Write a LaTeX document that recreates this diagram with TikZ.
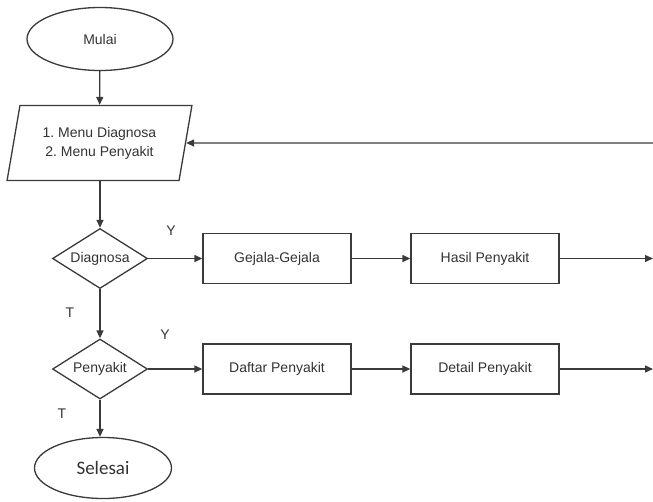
\documentclass[tikz,border=0pt]{standalone}
\usepackage{fontspec}
\setmainfont{Liberation Sans}
\newfontfamily\carl{Carlito}
\usetikzlibrary{shapes.geometric,arrows.meta}
\definecolor{ln}{HTML}{3A3A3A}
\definecolor{tx}{HTML}{333333}
\frenchspacing
\begin{document}
\begin{tikzpicture}[x=1pt,y=-1pt,
  base/.style={draw=ln,line width=1.3pt,fill=white,text=tx,font=\fontsize{14}{19}\selectfont,inner sep=0pt},
  term/.style={base,ellipse},
  procbox/.style={base,rectangle,minimum width=148pt,minimum height=50pt},
  decide/.style={base,diamond,aspect=1.58,minimum width=95pt,minimum height=60pt},
  io/.style={base,trapezium,trapezium left angle=74,trapezium right angle=106,trapezium stretches=true,minimum width=185pt,minimum height=75pt,align=center},
  conn/.style={draw=ln,line width=1.3pt,-{Triangle[length=8pt,width=7pt]}},
  lbl/.style={text=tx,font=\fontsize{14}{16}\selectfont,inner sep=0pt}]
\useasboundingbox (0,0) rectangle (653,501);
\node[term,minimum width=146pt,minimum height=63pt] (mulai) at (100,39) {Mulai};
\node[io] (menu) at (99.5,143) {1. Menu Diagnosa\\2. Menu Penyakit};
\node[decide] (diag) at (100,258.5) {Diagnosa};
\node[decide] (peny) at (100,369) {Penyakit};
\node[term,minimum width=137pt,minimum height=61pt,font=\carl\fontsize{19}{22}\selectfont] (selesai) at (103,468) {Selesai};
\node[procbox] (gejala) at (277,258.5) {Gejala-Gejala};
\node[procbox] (hasil) at (485,258.5) {Hasil Penyakit};
\node[procbox] (daftar) at (277,369) {Daftar Penyakit};
\node[procbox] (detail) at (485,369) {Detail Penyakit};
\coordinate (r0) at (653,143);
\coordinate (r1) at (653,258.5);
\coordinate (r2) at (653,369);
\node[lbl] (y1) at (171,231) {Y};
\node[lbl] (y2) at (165,335) {Y};
\node[lbl] (t1) at (70,313) {T};
\node[lbl] (t2) at (62,414) {T};
\draw[conn] (mulai) -- (menu);
\draw[conn] (menu.south -| diag.north) -- (diag);
\draw[conn] (r0) -- (menu.east);
\draw[conn] (diag) -- (gejala);
\draw[conn] (gejala) -- (hasil);
\draw[conn] (hasil) -- (r1);
\draw[conn] (diag) -- (peny);
\draw[conn] (peny) -- (daftar);
\draw[conn] (daftar) -- (detail);
\draw[conn] (detail) -- (r2);
\draw[conn] (peny.south) -- (peny.south |- selesai.north);
\end{tikzpicture}
\end{document}
